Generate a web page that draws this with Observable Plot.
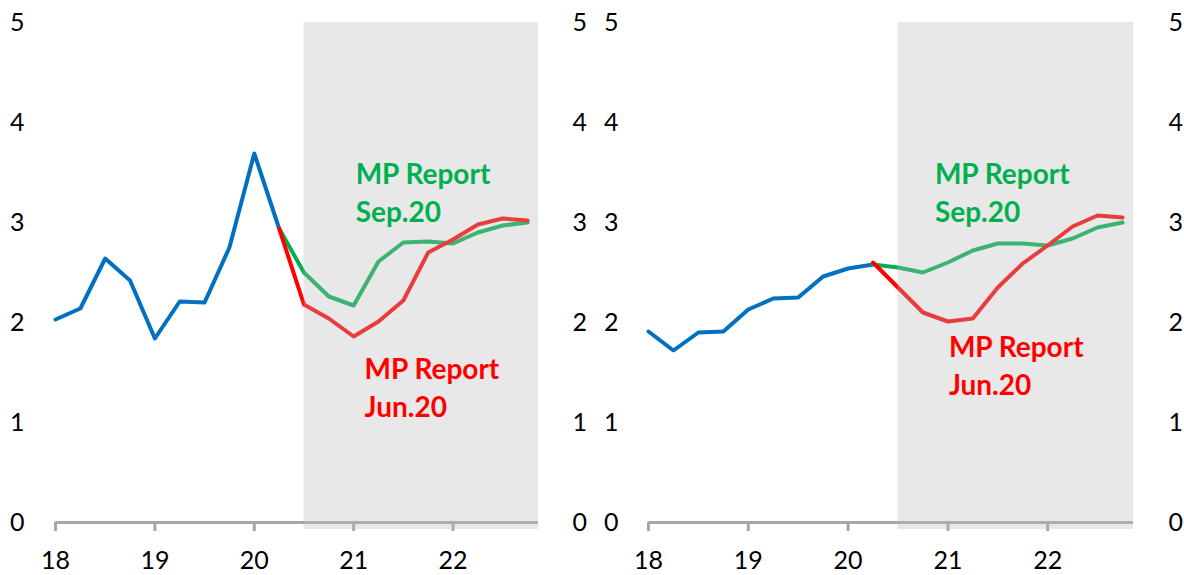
<!DOCTYPE html>
<html>
<head>
<meta charset="utf-8">
<script src="https://cdn.jsdelivr.net/npm/d3@7"></script>
<script src="https://cdn.jsdelivr.net/npm/@observablehq/plot@0.6"></script>
<style>
  html, body { margin: 0; padding: 0; background: #fff; }
  #wrap { display: flex; width: 1184px; height: 575px; }
  #wrap svg { display: block; }
</style>
</head>
<body>
<div id="wrap"></div>
<script>
// Quarterly categories (year fraction)
const actualQuarters = [18, 18.25, 18.5, 18.75, 19, 19.25, 19.5, 19.75, 20, 20.25];
const forecastQuarters = [20.25, 20.5, 20.75, 21, 21.25, 21.5, 21.75, 22, 22.25, 22.5, 22.75];
const yearTicks = [18, 19, 20, 21, 22];
const yTicks = [0, 1, 2, 3, 4, 5];

// Left panel
const leftActual = [2.03, 2.14, 2.64, 2.42, 1.84, 2.21, 2.20, 2.75, 3.69, 2.94];
const leftJun = [2.94, 2.18, 2.04, 1.86, 2.01, 2.22, 2.70, 2.83, 2.98, 3.04, 3.02];
const leftSep = [2.94, 2.50, 2.26, 2.17, 2.61, 2.80, 2.81, 2.79, 2.90, 2.97, 3.00];

// Right panel
const rightActual = [1.91, 1.72, 1.90, 1.91, 2.13, 2.24, 2.25, 2.46, 2.54, 2.58];
const rightJun = [2.60, 2.35, 2.10, 2.01, 2.04, 2.35, 2.59, 2.77, 2.96, 3.07, 3.05];
const rightSep = [2.58, 2.55, 2.50, 2.60, 2.72, 2.79, 2.79, 2.77, 2.84, 2.95, 3.00];

// Forecast period shading
const forecastStart = 20.5;
const xEnd = 22.86;

// Label texts and anchor positions (data coordinates)
const sepLabel = "MP Report\nSep.20";
const junLabel = "MP Report\nJun.20";
const leftLabelPos = {sep: [21.02, 3.32], jun: [21.11, 1.37]};
const rightLabelPos = {sep: [20.87, 3.32], jun: [21.01, 1.59]};

const BLUE = "#0070C0", GREEN = "#00B050", RED = "#FF0000", AXIS = "#a6a6a6";
const FONT = "Lato, 'Open Sans', sans-serif";

function panel({actual, jun, sep, labels, mLeft, mRight, padL, padR}) {
  const A = actualQuarters.map((q, i) => ({q, v: actual[i]}));
  const J = forecastQuarters.map((q, i) => ({q, v: jun[i]}));
  const S = forecastQuarters.map((q, i) => ({q, v: sep[i]}));
  return Plot.plot({
    width: 592,
    height: 575,
    marginLeft: mLeft,
    marginRight: mRight,
    marginTop: 22,
    marginBottom: 53,
    style: {fontFamily: FONT, background: "transparent", overflow: "visible"},
    x: {domain: [18, xEnd]},
    y: {domain: [0, 5]},
    marks: [
      Plot.ruleY([0], {x1: 18, x2: xEnd, stroke: AXIS, strokeWidth: 3}),
      Plot.axisX({ticks: yearTicks, tickFormat: d => String(d), tickSize: 9, tickPadding: 20,
        stroke: AXIS, strokeWidth: 3, fill: "#000", fontSize: 25, label: null}),
      Plot.axisY({anchor: "left", ticks: yTicks, tickFormat: d => String(d), tickSize: 0, tickPadding: padL,
        fill: "#000", fontSize: 25, label: null}),
      Plot.axisY({anchor: "right", ticks: yTicks, tickFormat: d => String(d), tickSize: 0, tickPadding: padR,
        fill: "#000", fontSize: 25, label: null}),
      Plot.line(A, {x: "q", y: "v", stroke: BLUE, strokeWidth: 4, strokeLinejoin: "round"}),
      Plot.line(S, {x: "q", y: "v", stroke: GREEN, strokeWidth: 4, strokeLinejoin: "round"}),
      Plot.line(J, {x: "q", y: "v", stroke: RED, strokeWidth: 4, strokeLinejoin: "round"}),
      Plot.rect([0], {x1: forecastStart, x2: xEnd, y1: -0.07, y2: 5, fill: "#b9b9b9", fillOpacity: 0.33}),
      Plot.text([sepLabel], {x: labels.sep[0], y: labels.sep[1], text: d => d, textAnchor: "start",
        lineAnchor: "middle", lineHeight: 1.36, fill: GREEN, fontSize: 28, fontWeight: "bold"}),
      Plot.text([junLabel], {x: labels.jun[0], y: labels.jun[1], text: d => d, textAnchor: "start",
        lineAnchor: "middle", lineHeight: 1.36, fill: RED, fontSize: 28, fontWeight: "bold"})
    ]
  });
}

const wrap = document.getElementById("wrap");
wrap.appendChild(panel({actual: leftActual, jun: leftJun, sep: leftSep, labels: leftLabelPos,
  mLeft: 55, mRight: 54, padL: 31, padR: 34}));
wrap.appendChild(panel({actual: rightActual, jun: rightJun, sep: rightSep, labels: rightLabelPos,
  mLeft: 56, mRight: 51, padL: 30, padR: 35}));
</script>
</body>
</html>
